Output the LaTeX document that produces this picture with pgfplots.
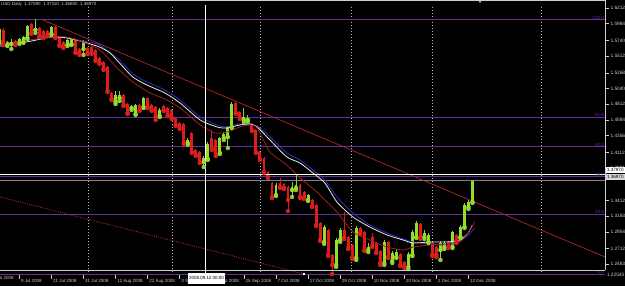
\documentclass[border=0pt]{standalone}
\usepackage{pgfplots}
\pgfplotsset{compat=1.18}
\usepackage{pgfplotstable}
\usepackage{fontspec}
\setmainfont{Liberation Sans}
\definecolor{bullbody}{RGB}{150,220,40}
\definecolor{bullwick}{RGB}{140,205,70}
\definecolor{bearbody}{RGB}{222,28,28}
\definecolor{bearwick}{RGB}{205,35,35}
\definecolor{fibc}{RGB}{100,45,160}
\definecolor{gridc}{RGB}{185,185,185}
\definecolor{trendc}{RGB}{175,40,40}
\definecolor{dotc}{RGB}{190,40,40}
\definecolor{mawhite}{RGB}{235,235,200}
\definecolor{mablue}{RGB}{45,45,205}
\definecolor{mared}{RGB}{165,28,28}
\definecolor{txt}{RGB}{205,205,205}

\pgfplotstableread{
j o h l c
-1 1.5732 1.5936 1.5703 1.5907
1 1.5674 1.5732 1.5659 1.5718
2 1.5689 1.5761 1.5616 1.5718
4 1.5703 1.5776 1.5689 1.5761
5 1.5718 1.5805 1.5703 1.5790
6 1.5776 1.5965 1.5761 1.5950
8 1.5892 1.6052 1.5849 1.5921
12 1.5834 1.5950 1.5820 1.5936
16 1.5674 1.5761 1.5659 1.5747
17 1.5689 1.5776 1.5674 1.5761
20 1.5616 1.5747 1.5529 1.5718
28 1.4845 1.5005 1.4816 1.4947
29 1.4903 1.5005 1.4860 1.4947
32 1.4757 1.4801 1.4728 1.4772
33 1.4670 1.4816 1.4656 1.4801
35 1.4772 1.4917 1.4757 1.4903
39 1.4641 1.4757 1.4626 1.4728
46 1.4248 1.4321 1.4219 1.4292
50 1.3972 1.4059 1.3899 1.4030
51 1.4015 1.4263 1.4001 1.4234
54 1.4103 1.4335 1.4088 1.4321
55 1.4321 1.4408 1.4292 1.4379
56 1.4335 1.4495 1.4175 1.4481
57 1.4481 1.4845 1.4466 1.4816
60 1.4583 1.4757 1.4554 1.4626
61 1.4583 1.4656 1.4554 1.4612
68 1.3492 1.3666 1.3477 1.3637
72 1.3564 1.3681 1.3463 1.3608
73 1.3593 1.3783 1.3564 1.3637
76 1.3419 1.3506 1.3404 1.3492
80 1.2808 1.3055 1.2779 1.3026
83 1.2473 1.2866 1.2444 1.2837
84 1.2837 1.3011 1.2808 1.2982
88 1.2575 1.3040 1.2546 1.3011
91 1.2691 1.2793 1.2662 1.2735
95 1.2502 1.2837 1.2473 1.2808
97 1.2531 1.2677 1.2502 1.2648
98 1.2589 1.2706 1.2575 1.2662
101 1.2444 1.2662 1.2415 1.2633
102 1.2619 1.2982 1.2604 1.2953
103 1.2880 1.3113 1.2866 1.3084
105 1.2880 1.2982 1.2851 1.2939
106 1.2808 1.2939 1.2793 1.2910
109 1.2691 1.2822 1.2546 1.2793
110 1.2735 1.2822 1.2706 1.2793
112 1.2735 1.2968 1.2720 1.2953
114 1.2880 1.3055 1.2866 1.3026
115 1.3026 1.3375 1.3011 1.3346
116 1.3317 1.3419 1.3288 1.3390
117 1.3390 1.3711 1.3375 1.3697
}\bull

\pgfplotstableread{
j o h l c
0 1.5892 1.5921 1.5674 1.5689
3 1.5732 1.5747 1.5674 1.5703
7 1.5980 1.5994 1.5834 1.5849
9 1.5921 1.5936 1.5790 1.5805
10 1.5878 1.5892 1.5776 1.5790
11 1.5878 1.5892 1.5805 1.5820
13 1.5936 1.5950 1.5776 1.5790
14 1.5790 1.5805 1.5659 1.5674
15 1.5718 1.5732 1.5630 1.5645
18 1.5747 1.5761 1.5558 1.5572
19 1.5616 1.5630 1.5529 1.5558
21 1.5630 1.5645 1.5543 1.5558
22 1.5645 1.5659 1.5543 1.5558
23 1.5601 1.5616 1.5441 1.5456
24 1.5485 1.5499 1.5398 1.5412
25 1.5427 1.5441 1.5310 1.5325
26 1.5354 1.5368 1.4990 1.5005
27 1.4976 1.4990 1.4874 1.4888
30 1.4947 1.4961 1.4786 1.4801
31 1.4816 1.4830 1.4670 1.4685
34 1.4801 1.4816 1.4714 1.4728
36 1.4903 1.4917 1.4757 1.4772
37 1.4801 1.4816 1.4714 1.4728
38 1.4772 1.4786 1.4583 1.4641
40 1.4786 1.4801 1.4714 1.4728
41 1.4757 1.4772 1.4641 1.4656
42 1.4728 1.4743 1.4597 1.4612
43 1.4612 1.4626 1.4495 1.4510
44 1.4539 1.4554 1.4452 1.4466
45 1.4525 1.4539 1.4234 1.4248
47 1.4394 1.4408 1.4103 1.4117
48 1.4146 1.4161 1.4059 1.4074
49 1.4117 1.4132 1.3957 1.3972
52 1.4321 1.4437 1.4146 1.4161
53 1.4292 1.4306 1.4059 1.4074
58 1.4830 1.4845 1.4670 1.4685
59 1.4699 1.4714 1.4597 1.4612
62 1.4525 1.4539 1.4423 1.4437
63 1.4437 1.4452 1.4103 1.4117
64 1.4117 1.4132 1.4001 1.4015
65 1.4030 1.4045 1.3812 1.3826
66 1.3826 1.3841 1.3739 1.3754
67 1.3666 1.3681 1.3448 1.3463
69 1.3666 1.3739 1.3593 1.3608
70 1.3652 1.3666 1.3579 1.3593
71 1.3608 1.3622 1.3259 1.3419
74 1.3637 1.3652 1.3448 1.3463
75 1.3535 1.3550 1.3433 1.3448
77 1.3419 1.3433 1.3317 1.3331
78 1.3346 1.3361 1.3040 1.3055
79 1.3084 1.3099 1.2822 1.2837
81 1.2982 1.2997 1.2604 1.2619
82 1.2619 1.2633 1.2342 1.2473
85 1.2982 1.3244 1.2851 1.2866
86 1.2880 1.2895 1.2706 1.2720
87 1.2764 1.2779 1.2560 1.2575
89 1.3011 1.3026 1.2924 1.2939
90 1.2953 1.2968 1.2677 1.2691
92 1.2880 1.2939 1.2735 1.2749
93 1.2793 1.2808 1.2648 1.2662
94 1.2677 1.2691 1.2473 1.2502
96 1.2808 1.2822 1.2575 1.2589
99 1.2633 1.2648 1.2458 1.2473
100 1.2517 1.2531 1.2429 1.2444
104 1.3070 1.3084 1.2851 1.2866
107 1.2793 1.2808 1.2604 1.2619
108 1.2735 1.2749 1.2589 1.2619
111 1.2808 1.2822 1.2720 1.2735
113 1.2910 1.2924 1.2793 1.2822
}\bear

\pgfplotstableread{
j p
-0.8 1.5659
7 1.5732
12 1.5790
16 1.5776
20 1.5718
24 1.5645
26.6 1.5558
29 1.5412
32.3 1.5208
35.8 1.5092
40.3 1.4976
44.1 1.4830
49.1 1.4583
53.3 1.4481
55.8 1.4466
59 1.4510
61.5 1.4525
63.3 1.4481
66.5 1.4292
70.7 1.4045
74 1.3957
77.2 1.3812
80.2 1.3666
83.2 1.3390
87.2 1.3171
91.4 1.3026
95.7 1.2910
99.7 1.2837
102.2 1.2793
106.4 1.2808
110.6 1.2808
113.9 1.2837
115.9 1.2939
117 1.3055
}\mawhitetab

\pgfplotstableread{
j p
-0.8 1.5674
12 1.5790
20 1.5732
24 1.5674
29 1.5456
32.3 1.5252
35.8 1.5136
40.3 1.5019
44.1 1.4874
49.1 1.4626
53.3 1.4510
55.8 1.4481
59 1.4525
63.3 1.4495
66.5 1.4335
70.7 1.4103
74 1.4001
77.2 1.3855
80.2 1.3710
83.2 1.3463
87.2 1.3230
91.4 1.3055
95.7 1.2939
99.7 1.2851
102.2 1.2808
106.4 1.2779
110.6 1.2779
113.9 1.2822
116 1.2910
117.5 1.3011
}\mabluetab

\pgfplotstableread{
j p
-0.8 1.5689
4 1.5718
11.6 1.5790
15.9 1.5790
19.9 1.5718
24.1 1.5601
28.4 1.5339
32.3 1.5136
36.6 1.4976
40.3 1.4888
44.1 1.4757
49.1 1.4510
52.8 1.4394
55.8 1.4408
59 1.4481
61.5 1.4510
63.3 1.4466
66.5 1.4117
70.7 1.3928
74 1.3739
78.2 1.3535
80.2 1.3419
83.2 1.3244
87.2 1.2953
91.4 1.2837
95.7 1.2735
99.7 1.2691
102.2 1.2735
106.4 1.2764
110.6 1.2764
113.9 1.2808
116.4 1.2982
117.5 1.3099
}\maredtab

\begin{document}
\begin{tikzpicture}[x=1bp,y=1bp]
\fill[black] (0,0) rectangle (625,286);
\useasboundingbox (0,0) rectangle (625,286);
\begin{axis}[
  at={(0,16)}, anchor=south west,
  width=605bp, height=270bp, scale only axis,
  xmin=-0.82, xmax=150.05, ymin=1.23275, ymax=1.6256,
  clip=false,
  axis line style={draw=none},
  xtick pos=left, ytick pos=right, yticklabel pos=right,
  tick align=outside, major tick length=3.5bp,
  tick style={txt, line width=0.6bp},
  xtick={4,12,20,28,36,44,52,60,68,76,84,92,100,108,116},
  xticklabels={9 Jul 2008,21 Jul 2008,31 Jul 2008,12 Aug 2008,22 Aug 2008,3 Sep 2008,15 Sep 2008,25 Sep 2008,7 Oct 2008,17 Oct 2008,29 Oct 2008,10 Nov 2008,20 Nov 2008,2 Dec 2008,12 Dec 2008},
  xticklabel style={anchor=north west, inner sep=0pt, yshift=-0.5bp, xshift=1.5bp, text=txt, font=\fontsize{4.5}{5}\selectfont},
  ytick={1.6212,1.5984,1.5740,1.5512,1.5268,1.5040,1.4812,1.4584,1.4356,1.4112,1.3881,1.3412,1.3183,1.2954,1.2712,1.2483},
  yticklabels={1.62120,1.59840,1.57400,1.55120,1.52680,1.50400,1.48120,1.45840,1.43560,1.41120,1.38810,1.34120,1.31830,1.29540,1.27120,1.24830},
  yticklabel style={anchor=west, inner sep=0pt, xshift=1.8bp, text=txt, font=\fontsize{4.8}{5}\selectfont},
  extra x ticks={21.1,42.1,64.0,86.9,106.9,134.1},
  extra x tick labels={},
  extra x tick style={grid=major, major grid style={gridc, dash pattern=on 1.5bp off 1.5bp, line width=0.7bp}, major tick length=0pt},
]
% Fibonacci levels
\pgfplotsinvokeforeach{1.6038,1.4626,1.4190,1.3754,1.3214,1.2342}{
  \addplot[fibc, line width=1bp, forget plot] coordinates {(-0.82,#1) (150.05,#1)};
}
% bid line
\addplot[gray, line width=1bp, forget plot] coordinates {(-0.82,1.3697) (150.05,1.3697)};
% trend lines
\addplot[trendc, line width=0.7bp] coordinates {(9.9,1.6038) (150.05,1.2589)};
\addplot[dotc, line width=0.9bp, dash pattern=on 0.9bp off 1.4bp, mark=square*, mark indices={2}, mark options={solid, white, scale=0.35}] coordinates {(-0.82,1.3463) (75,1.2342)};
% candles: wicks
\addplot[only marks, mark=none, bullwick, error bars/.cd, y dir=plus, y explicit, error mark=none, error bar style={line width=0.9bp, bullwick}]
  table[x=j, y=l, y error plus expr=\thisrow{h}-\thisrow{l}] {\bull};
\addplot[only marks, mark=none, bearwick, error bars/.cd, y dir=plus, y explicit, error mark=none, error bar style={line width=0.9bp, bearwick}]
  table[x=j, y=l, y error plus expr=\thisrow{h}-\thisrow{l}] {\bear};
% candles: bodies
\addplot[only marks, mark=none, bullbody, error bars/.cd, y dir=plus, y explicit, error mark=none, error bar style={line width=2.9bp, bullbody}]
  table[x=j, y=o, y error plus expr=\thisrow{c}-\thisrow{o}] {\bull};
\addplot[only marks, mark=none, bearbody, error bars/.cd, y dir=plus, y explicit, error mark=none, error bar style={line width=2.9bp, bearbody}]
  table[x=j, y=c, y error plus expr=\thisrow{o}-\thisrow{c}] {\bear};
% moving averages
\addplot[mablue, line width=0.8bp, smooth, tension=0.4] table[x=j, y=p] {\mabluetab};
\addplot[mawhite, line width=0.8bp, smooth, tension=0.4] table[x=j, y=p] {\mawhitetab};
\addplot[mared, line width=0.8bp, smooth, tension=0.4] table[x=j, y=p] {\maredtab};
% crosshair
\addplot[white, line width=0.8bp] coordinates {(50.5,1.23275) (50.5,1.6256)};
\addplot[white, line width=0.8bp] coordinates {(-0.82,1.3797) (150.05,1.3797)};
% fib labels
\begin{scope}[every node/.style={anchor=south east, inner sep=0pt, text=fibc, font=\fontsize{4.5}{5}\selectfont}]
\node at (axis cs:149.8,1.6048) {100.0};
\node at (axis cs:149.8,1.4636) {61.8};
\node at (axis cs:149.8,1.4200) {50.0};
\node at (axis cs:149.8,1.3764) {38.2};
\node at (axis cs:149.8,1.3224) {23.6};
\node at (axis cs:149.8,1.2352) {0.0};
\end{scope}
\end{axis}
% frame
\draw[txt, line width=0.8bp] (0,285.2) -- (605,285.2);
\draw[txt, line width=0.8bp] (605,16) -- (605,286);
\draw[txt, line width=0.8bp] (0,16) -- (605,16);
% shift marker
\fill[txt] (478.5,285.5) -- (481.5,285.5) -- (480,283) -- cycle;
% title
\node[anchor=north west, inner sep=0pt, text=txt, font=\fontsize{4.5}{5}\selectfont] at (1,284.3) {USD,Daily\ \ 1.37080\ \ 1.37110\ \ 1.36850\ \ 1.36970};
% cut label at left and bottom right price
\node[anchor=north west, inner sep=0pt, text=txt, font=\fontsize{4.5}{5}\selectfont] at (-11.2,9.5) {27 Jun 2008};
\node[anchor=west, inner sep=0pt, text=txt, font=\fontsize{4.8}{5}\selectfont] at (606.8,11) {1.22540};
% price boxes
\fill[white] (605.5,113) rectangle (625,119.5);
\node[anchor=west, inner sep=0pt, text=black, font=\fontsize{4.6}{5}\selectfont] at (606.8,116.3) {1.37970};
\fill[black!15] (605.5,106.5) rectangle (625,112.5);
\node[anchor=west, inner sep=0pt, text=black, font=\fontsize{4.6}{5}\selectfont] at (606.8,109.5) {1.36970};
% date box
\fill[white] (188,2.5) rectangle (225,13.5);
\node[inner sep=0pt, text=black, font=\fontsize{4.5}{5}\selectfont] at (206.5,8) {2008.09.12 00:00};
\end{tikzpicture}
\end{document}
